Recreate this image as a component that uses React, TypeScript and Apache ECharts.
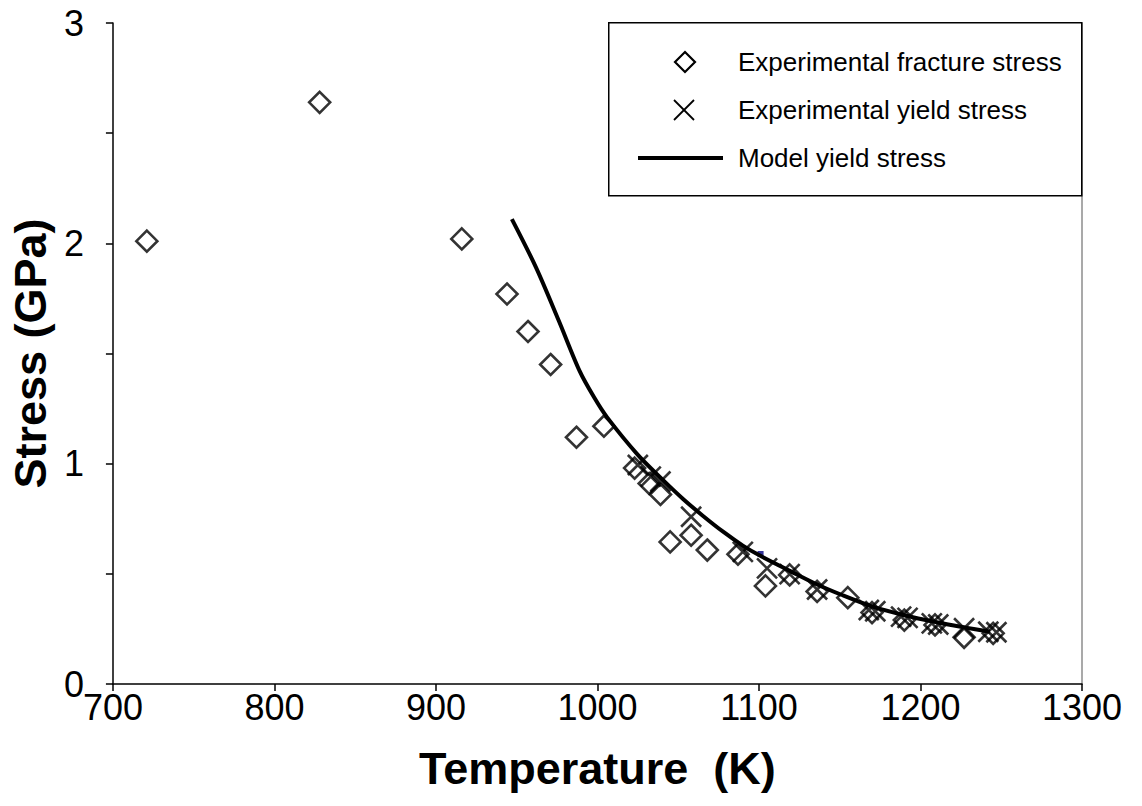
import React, { useEffect, useRef } from "react";
import * as echarts from "echarts";

const xTicks = [700, 800, 900, 1000, 1100, 1200, 1300];
const yTickLabels = ["0", "1", "2", "3"];

const fractureT = [721, 828, 916, 944, 957, 971, 987, 1004, 1023, 1032, 1039, 1045, 1058, 1068, 1087, 1104, 1119, 1136, 1155, 1170, 1190, 1209, 1227, 1245];
const fractureS = [2.01, 2.64, 2.02, 1.77, 1.6, 1.45, 1.12, 1.17, 0.98, 0.91, 0.86, 0.645, 0.675, 0.608, 0.589, 0.445, 0.495, 0.42, 0.392, 0.324, 0.29, 0.268, 0.212, 0.23];

const yieldT = [1025, 1033, 1039, 1058, 1090, 1105, 1119, 1136, 1168, 1172, 1188, 1192, 1207, 1211, 1227, 1242, 1247];
const yieldS = [0.994, 0.941, 0.919, 0.759, 0.6, 0.525, 0.499, 0.429, 0.336, 0.33, 0.306, 0.3, 0.275, 0.27, 0.253, 0.237, 0.235];

const modelT = [947, 962, 976, 989, 998, 1006, 1025, 1040, 1053, 1065, 1078, 1090, 1100, 1120, 1135, 1151, 1170, 1190, 1210, 1227, 1243];
const modelS = [2.11, 1.89, 1.65, 1.42, 1.30, 1.21, 1.04, 0.93, 0.84, 0.765, 0.69, 0.628, 0.585, 0.51, 0.455, 0.405, 0.352, 0.312, 0.28, 0.257, 0.237];

const strayT = [1101];
const strayS = [0.59];

const seriesNames = ["Experimental fracture stress", "Experimental yield stress", "Model yield stress"];

const FONT = "Liberation Sans, Arial, sans-serif";
const CROSS = "path://M0,0L20,20M20,0L0,20";

export default function App() {
  const ref = useRef<HTMLDivElement>(null);
  useEffect(() => {
    if (!ref.current) return;
    const chart = echarts.init(ref.current, undefined, { renderer: "svg" });
    const zip = (a: number[], b: number[]) => a.map((v, i) => [v, b[i]]);
    const rowY = [62, 110, 158];
    const textX = 738;
    const legendText = (i: number) => ({
      type: "text",
      x: textX,
      y: rowY[i],
      style: { text: seriesNames[i], fontFamily: FONT, fontSize: 26, fill: "#000", verticalAlign: "middle", align: "left" },
      z: 11,
    });
    chart.setOption({
      animation: false,
      backgroundColor: "#fff",
      grid: { left: 105, right: 60, top: 23, bottom: 122 },
      xAxis: {
        type: "value",
        min: xTicks[0],
        max: xTicks[xTicks.length - 1],
        interval: 100,
        name: "Temperature  (K)",
        nameLocation: "middle",
        nameGap: 62,
        nameTextStyle: { fontFamily: FONT, fontSize: 45, fontWeight: "bold", color: "#000" },
        axisLine: { show: true, onZero: false, lineStyle: { color: "#000", width: 1.5 } },
        axisTick: { show: true, length: 7, lineStyle: { color: "#000", width: 1.5 } },
        axisLabel: { fontFamily: FONT, fontSize: 36, color: "#000", margin: 5, formatter: (v: number) => String(v) },
        splitLine: { show: false },
      },
      yAxis: [
        {
          type: "value",
          min: 0,
          max: 3,
          interval: 0.5,
          name: "Stress (GPa)",
          nameLocation: "middle",
          nameGap: 54,
          nameTextStyle: { fontFamily: FONT, fontSize: 45, fontWeight: "bold", color: "#000" },
          axisLine: { show: true, onZero: false, lineStyle: { color: "#000", width: 1.5 } },
          axisTick: { show: true, length: 7, lineStyle: { color: "#000", width: 1.5 } },
          axisLabel: {
            fontFamily: FONT,
            fontSize: 36,
            color: "#000",
            margin: 29,
            formatter: (v: number) => (Number.isInteger(v) ? yTickLabels[v] : ""),
          },
          splitLine: { show: false },
        },
        {
          type: "value",
          position: "right",
          min: 0,
          max: 3,
          interval: 0.5,
          axisLine: { show: true, onZero: false, lineStyle: { color: "#8c8c8c", width: 1.5 } },
          axisTick: { show: false },
          axisLabel: { show: false },
          splitLine: { show: false },
        },
      ],
      graphic: [
        {
          type: "rect",
          left: 608,
          top: 22,
          shape: { width: 473, height: 173 },
          style: { fill: "#fff", stroke: "#000", lineWidth: 1.5 },
          z: 10,
        },
        {
          type: "polygon",
          shape: { points: [[685, rowY[0] - 10], [695, rowY[0]], [685, rowY[0] + 10], [675, rowY[0]]] },
          style: { fill: "none", stroke: "#000", lineWidth: 2.2 },
          z: 11,
        },
        {
          type: "line",
          shape: { x1: 674, y1: rowY[1] - 10, x2: 694, y2: rowY[1] + 10 },
          style: { stroke: "#000", lineWidth: 1.8 },
          z: 11,
        },
        {
          type: "line",
          shape: { x1: 694, y1: rowY[1] - 10, x2: 674, y2: rowY[1] + 10 },
          style: { stroke: "#000", lineWidth: 1.8 },
          z: 11,
        },
        {
          type: "line",
          shape: { x1: 638, y1: rowY[2], x2: 723, y2: rowY[2] },
          style: { stroke: "#000", lineWidth: 4 },
          z: 11,
        },
        legendText(0),
        legendText(1),
        legendText(2),
      ],
      series: [
        {
          name: seriesNames[2],
          type: "line",
          data: zip(modelT, modelS),
          smooth: 0.3,
          showSymbol: false,
          symbol: "none",
          lineStyle: { color: "#000", width: 4 },
          itemStyle: { color: "#000" },
          z: 3,
        },
        {
          name: seriesNames[0],
          type: "scatter",
          data: zip(fractureT, fractureS),
          symbol: "diamond",
          symbolSize: [21, 21],
          itemStyle: { color: "rgba(255,255,255,0)", borderColor: "#000", borderWidth: 2.6 },
          z: 4,
        },
        {
          name: seriesNames[1],
          type: "scatter",
          data: zip(yieldT, yieldS),
          symbol: CROSS,
          symbolSize: 20,
          itemStyle: { color: "rgba(255,255,255,0)", borderColor: "#000", borderWidth: 2.6 },
          z: 5,
        },
        {
          name: "stray",
          type: "scatter",
          data: zip(strayT, strayS),
          symbol: "rect",
          symbolSize: 6,
          itemStyle: { color: "#000080" },
          z: 2,
        },
      ],
    });
    return () => chart.dispose();
  }, []);
  return <div ref={ref} style={{ position: "absolute", left: 0, top: 0, width: 1142, height: 806 }} />;
}
